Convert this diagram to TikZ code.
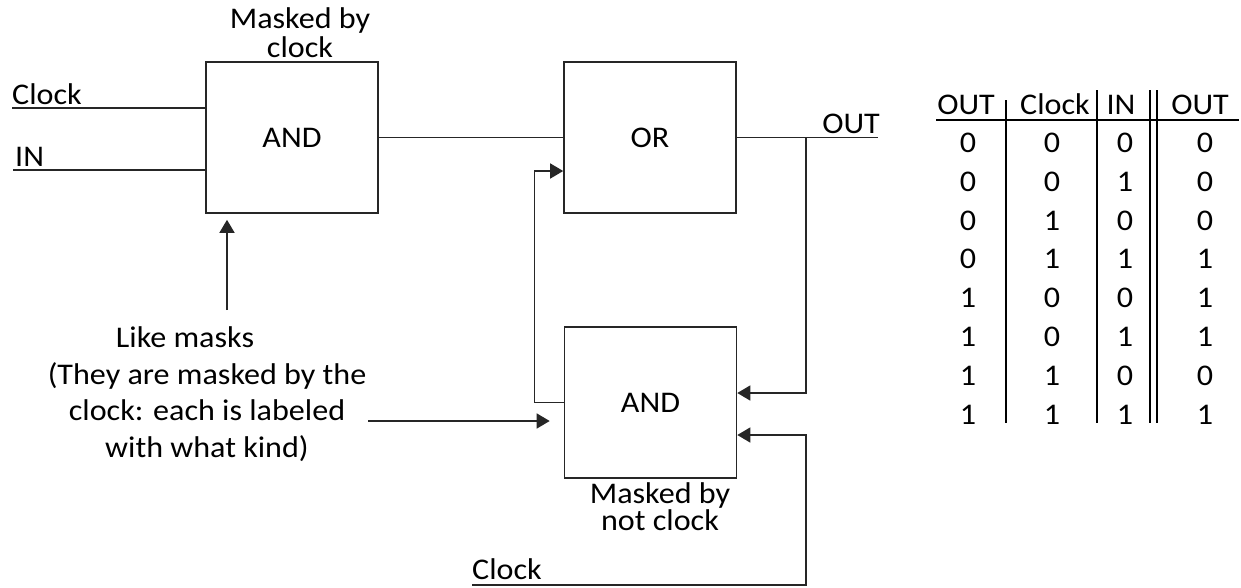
\documentclass[tikz,border=0pt]{standalone}
\usepackage{fontspec}
\setmainfont{Carlito}[FakeStretch=1.07]
\usetikzlibrary{arrows.meta}

\begin{document}
\begin{tikzpicture}[x=1pt, y=-1pt, font=\fontsize{30}{29}\selectfont,
    gate/.style={draw=black!85, line width=1.6pt, minimum width=172pt, minimum height=151pt, inner sep=0pt},
    wire/.style={draw=black!85, line width=1.5pt},
    tip/.style={-{Triangle[length=13pt, width=15pt]}},
    lbl/.style={inner sep=0pt, anchor=base}]
    \useasboundingbox (0,0) rectangle (1241,587);
    \node[gate] (andClk) at (292,137.5) {AND}; \node[gate] (orGate) at (650,137.5) {OR};
    \node[gate] (andNot) at (650.5,402.5) {AND};
    \coordinate (clkA) at (12,108); \coordinate (inA) at (13,170); \coordinate (clkB) at (472,585);
    \coordinate (tap) at (806,137.5); \coordinate (outEnd) at (878,137.5);
    \coordinate (noteEnd) at (368,421); \coordinate (upEnd) at (227,310);
    \draw[wire] (clkA) -- (clkA -| andClk.west) (inA) -- (inA -| andClk.west);
    \draw[wire] (andClk.east) -- (orGate.west) (orGate.east) -- (outEnd);
    \draw[wire, tip] (tap) |- (andNot.east |- 0,393);
    \draw[wire, tip] (andNot.west) -- ++(-29,0) |- (orGate.west |- 0,171);
    \draw[wire, tip] (clkB) -- (clkB -| tap) |- (andNot.east |- 0,435);
    % the two note arrows stop short of the boxes, as drawn
    \draw[wire, tip, shorten >=14pt] (noteEnd) -- (andNot.west |- noteEnd);
    \draw[wire, tip, shorten >=6pt] (upEnd) -- (andClk.south -| upEnd);
    \node[lbl, anchor=base west] (clkTxt) at (12,104) {Clock}; \node[lbl, anchor=base west] (inTxt) at (15,166) {IN};
    \node[lbl, anchor=base east] (outTxt) at (880,133) {OUT}; \node[lbl, anchor=base west] (clkTxtB) at (472,579) {Clock};
    \node[lbl, align=center] (maskTop) at (300,57) {Masked by\\clock};
    \node[lbl, align=center, font=\fontsize{30}{27}\selectfont] (maskBot) at (660,530) {Masked by\\not clock};
    \node[lbl] (likeTxt) at (185,347) {Like masks};
    \node[lbl, align=center, font=\fontsize{30}{36.5}\selectfont] (noteTxt) at (207,457) {(They are masked by the\\clock: each is labeled\\with what kind)};
    \foreach \x/\t [count=\k] in {966/OUT, 1055/Clock, 1121/IN, 1200/OUT} {\node[lbl] (hd\k) at (\x,114) {\t};}
    \draw[line width=1.5pt] (936,120) -- (1239,120);
    \foreach \x/\y in {1006/100, 1097/90, 1150/90, 1157/90} {\draw[line width=1.5pt] (\x,\y) -- (\x,423);}
    \foreach \a/\b/\c/\d [count=\i] in {0/0/0/0, 0/0/1/0, 0/1/0/0, 0/1/1/1, 1/0/0/1, 1/0/1/1, 1/1/0/0, 1/1/1/1} {
        \pgfmathsetmacro\yb{113.7+38.8*\i}
        \node[lbl] (ra\i) at (968,\yb) {\a}; \node[lbl] (rb\i) at (1052,\yb) {\b};
        \node[lbl] (rc\i) at (1125,\yb) {\c}; \node[lbl] (rd\i) at (1205,\yb) {\d};
    }
\end{tikzpicture}
\end{document}
